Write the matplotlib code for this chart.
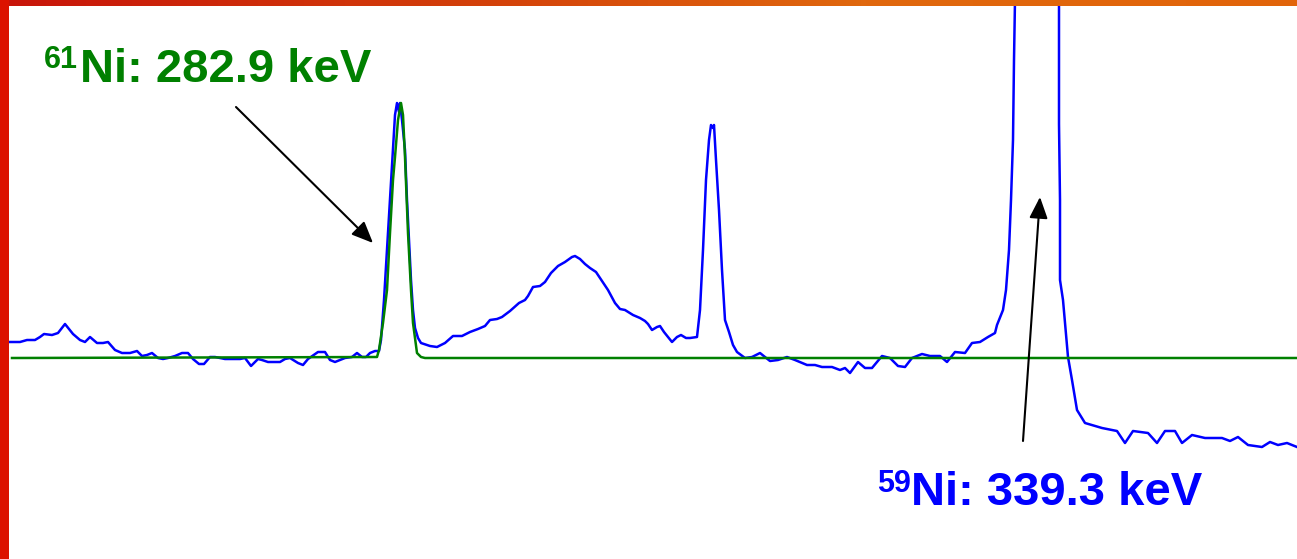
import matplotlib.pyplot as plt
import numpy as np
from matplotlib.colors import LinearSegmentedColormap
from matplotlib.patches import Rectangle

# Picture size (pixels) and frame
W, H = 1297, 559
LEFT_EDGE = 9
TOP_EDGE = 6

# Measured spectrum (x = channel position, y = screen row, smaller = more counts)
spec_x = [9, 20, 27, 35, 40, 44, 52, 58, 65, 73, 80, 85, 90, 97, 103, 108, 115, 122, 130, 137,
          142, 147, 152, 158, 163, 168, 175, 182, 188, 193, 199, 204, 210, 215, 225, 240, 245, 251, 258, 262,
          268, 280, 285, 290, 298, 303, 308, 318, 325, 330, 335, 340, 345, 352, 357, 362, 366, 370, 375, 379,
          381, 384, 387, 390, 393, 395, 397, 399, 400, 402, 405, 407, 409, 411, 413, 415, 418, 421, 430, 437,
          445, 453, 462, 470, 478, 485, 490, 497, 502, 510, 519, 525, 528, 533, 540, 545, 551, 558, 565, 572,
          575, 580, 585, 590, 596, 600, 608, 615, 620, 625, 633, 640, 645, 648, 652, 657, 660, 664, 668, 672,
          677, 681, 686, 690, 697, 700, 703, 706, 709, 711, 713, 714, 716, 719, 722, 725, 729, 733, 737, 745,
          752, 760, 765, 770, 778, 787, 795, 807, 815, 822, 832, 840, 845, 850, 858, 865, 872, 882, 890, 898,
          905, 912, 922, 930, 940, 947, 955, 965, 972, 980, 988, 995, 997, 1003, 1006, 1009, 1011, 1013, 1014, 1015,
          1059, 1059, 1060, 1060, 1063, 1068, 1072, 1077, 1085, 1102, 1117, 1125, 1133, 1148, 1157, 1165, 1175, 1182, 1192, 1205,
          1222, 1230, 1238, 1248, 1262, 1270, 1278, 1287, 1297]
spec_y = [342, 342, 340, 340, 337, 334, 335, 333, 324, 334, 340, 342, 337, 343, 343, 342, 350, 353, 353, 351,
          356, 355, 353, 358, 359, 358, 356, 353, 353, 359, 364, 364, 357, 357, 359, 359, 358, 366, 359, 360,
          362, 362, 359, 358, 363, 365, 359, 352, 352, 360, 362, 360, 358, 357, 353, 357, 357, 353, 351, 351,
          340, 300, 250, 200, 150, 115, 103, 112, 103, 120, 150, 200, 240, 280, 310, 328, 338, 343, 346, 347,
          343, 336, 336, 332, 329, 326, 320, 319, 317, 311, 303, 300, 296, 287, 286, 282, 273, 266, 262, 257,
          256, 259, 264, 268, 272, 278, 290, 303, 309, 310, 315, 318, 321, 324, 330, 327, 326, 332, 337, 342,
          337, 335, 338, 338, 337, 310, 250, 180, 140, 125, 128, 125, 160, 210, 270, 320, 332, 345, 352, 358,
          357, 353, 357, 361, 360, 357, 360, 365, 365, 367, 367, 370, 368, 373, 362, 368, 368, 356, 358, 366,
          367, 358, 354, 356, 356, 362, 352, 353, 343, 342, 337, 333, 325, 310, 290, 250, 200, 140, 60, 0,
          0, 124, 200, 280, 300, 357, 380, 410, 423, 428, 431, 443, 431, 433, 443, 431, 431, 443, 435, 438,
          438, 441, 437, 445, 447, 442, 445, 443, 447]

# Fitted 61Ni peak
fit_x = [12, 377, 379, 383, 387, 390, 393, 395, 398, 401, 403, 405, 408, 411, 413, 417, 421, 425, 1297]
fit_y = [358, 357, 350, 323, 290, 233, 180, 157, 120, 103, 115, 157, 233, 290, 323, 353, 357, 358, 358]

GREEN = "#008000"
BLUE = "#0000ff"

fig = plt.figure(figsize=(W / 100, H / 100), dpi=100)
fig.patch.set_facecolor("white")
ax = fig.add_axes([0, 0, 1, 1])
ax.set_axis_off()

ax.plot(spec_x, spec_y, color=BLUE, lw=1.8, solid_joinstyle="round", zorder=3)
ax.plot(fit_x, fit_y, color=GREEN, lw=1.8, solid_joinstyle="round", zorder=4)

# labels
label_font = dict(family=["Liberation Sans", "DejaVu Sans"], fontweight="bold")
ax.text(44, 68, "61", color=GREEN, fontsize=22, va="baseline", ha="left", **label_font)
ax.text(80, 82, "Ni: 282.9 keV", color=GREEN, fontsize=34, va="baseline", ha="left", **label_font)
ax.text(877, 492, "59", color=BLUE, fontsize=22, va="baseline", ha="left", **label_font)
ax.text(911, 505, "Ni: 339.3 keV", color=BLUE, fontsize=34, va="baseline", ha="left", **label_font)

arrow = dict(arrowstyle="-|>,head_length=0.65,head_width=0.28", color="black", lw=1.5,
             mutation_scale=20, shrinkA=0, shrinkB=0)
ax.annotate("", xy=(373, 243), xytext=(236, 107), arrowprops=arrow, zorder=5)
ax.annotate("", xy=(1040, 197), xytext=(1023, 441), arrowprops=arrow, zorder=5)

# slide frame: red strip on the left, red-to-orange strip on top
frame_cmap = LinearSegmentedColormap.from_list("frame", ["#c8140a", "#d23c0a", "#e0680e", "#e2640a"])
ax.imshow(np.linspace(0, 1, 256)[None, :], cmap=frame_cmap, aspect="auto",
          extent=(0, W, TOP_EDGE, 0), zorder=10)
ax.add_patch(Rectangle((0, 0), LEFT_EDGE, H, color="#dc1200", zorder=11, lw=0))

ax.set_xlim(0, W)
ax.set_ylim(H, 0)

fig.savefig("out.png", dpi=100, facecolor=fig.get_facecolor())
